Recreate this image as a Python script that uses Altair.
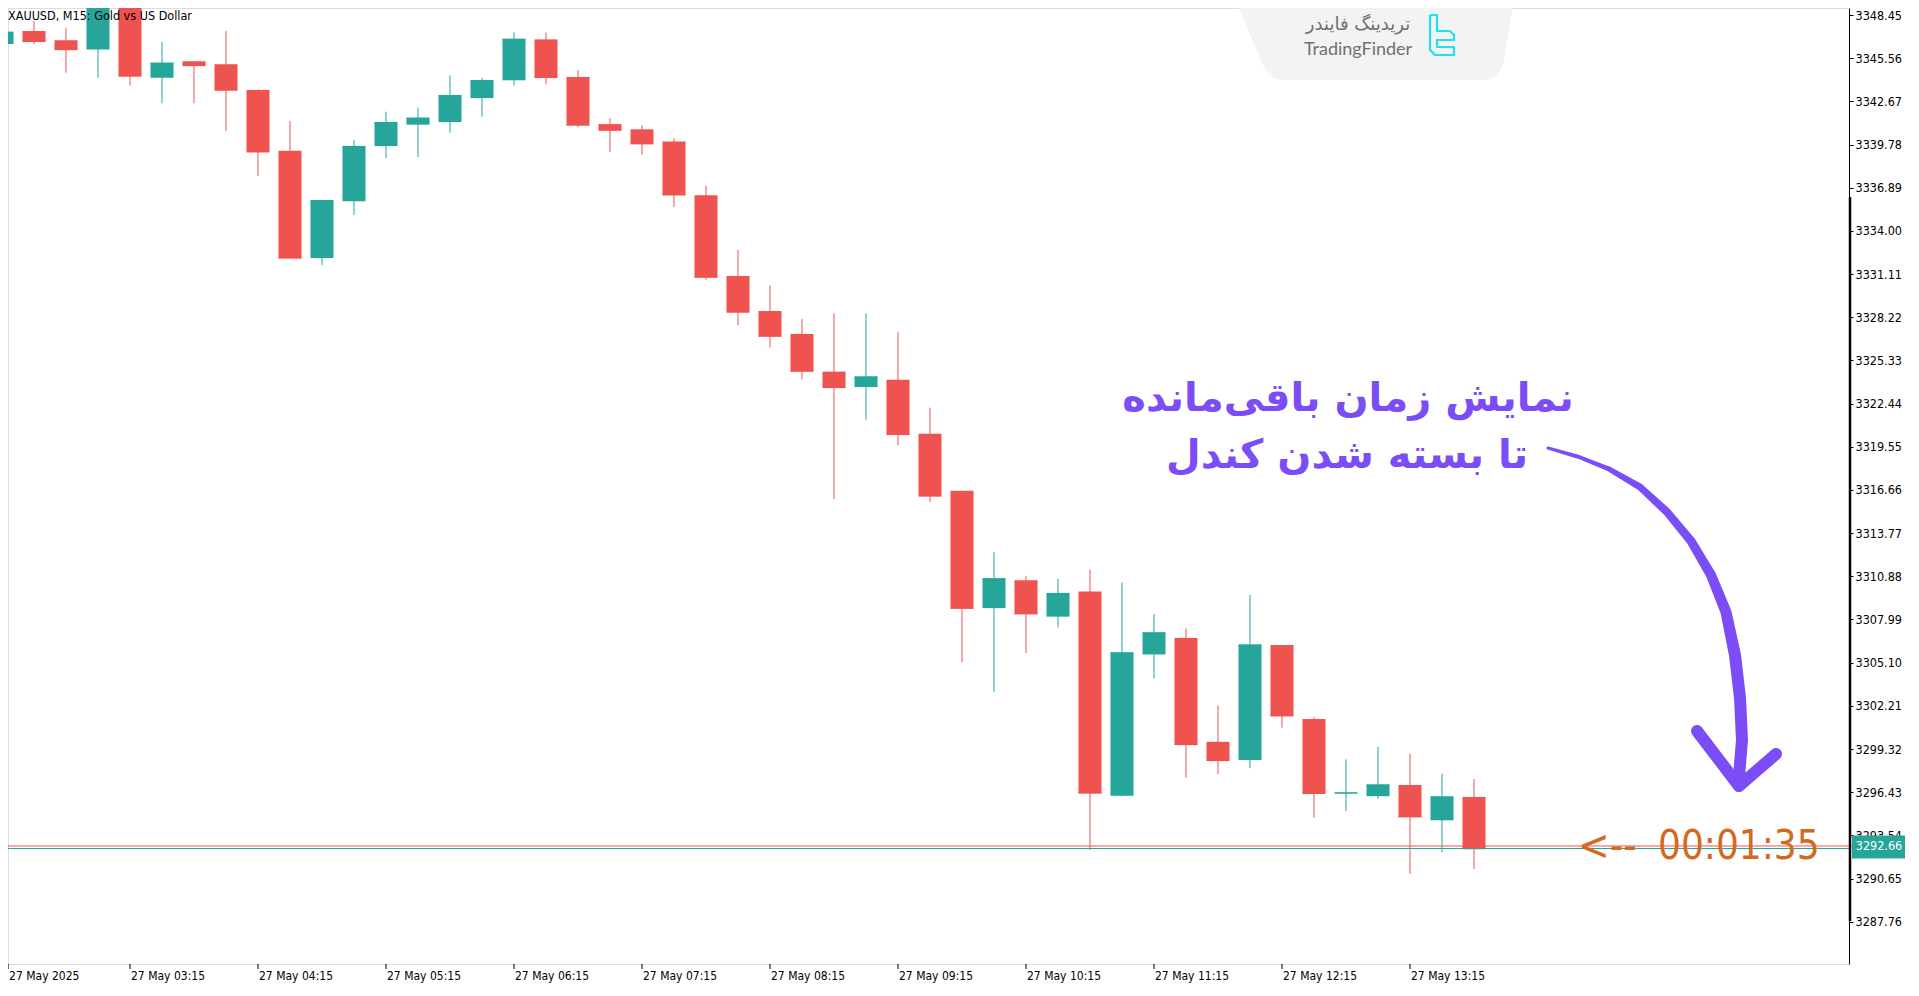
import altair as alt
import pandas as pd

# ---------------- data ----------------
candle_idx = list(range(47))
opens = [3346.51, 3347.38, 3346.76, 3346.15, 3349.86, 3344.25, 3345.35, 3345.15, 3343.43, 3339.37,
         3332.19, 3335.98, 3339.68, 3341.11, 3341.29, 3342.89, 3344.08, 3346.82, 3344.30, 3341.15,
         3340.80, 3339.99, 3336.38, 3330.98, 3328.64, 3327.10, 3324.58, 3323.55, 3324.04, 3320.43,
         3316.61, 3308.75, 3310.61, 3308.18, 3309.86, 3296.20, 3305.65, 3306.75, 3299.80, 3298.59,
         3306.28, 3301.33, 3296.36, 3296.16, 3296.91, 3294.55, 3296.11]
highs = [3347.38, 3348.05, 3347.56, 3350.12, 3350.20, 3346.64, 3345.37, 3347.38, 3343.48, 3341.36,
         3336.02, 3340.08, 3341.98, 3342.25, 3344.41, 3344.25, 3347.29, 3347.29, 3344.77, 3341.54,
         3341.07, 3340.20, 3337.02, 3332.72, 3330.36, 3328.10, 3328.48, 3328.48, 3327.21, 3322.17,
         3316.61, 3312.49, 3310.91, 3310.71, 3311.33, 3310.46, 3308.36, 3307.39, 3302.23, 3309.63,
         3306.28, 3301.45, 3298.63, 3299.46, 3299.01, 3297.67, 3297.31]
lows = [3346.44, 3346.49, 3344.59, 3344.25, 3343.72, 3342.54, 3342.54, 3340.69, 3337.69, 3332.19,
        3331.72, 3335.06, 3338.86, 3338.95, 3340.57, 3341.64, 3343.72, 3343.81, 3340.93, 3339.28,
        3339.10, 3335.60, 3330.73, 3327.68, 3326.21, 3324.07, 3316.05, 3321.36, 3319.65, 3315.87,
        3305.13, 3303.14, 3305.75, 3307.46, 3292.56, 3296.20, 3304.04, 3297.40, 3297.65, 3298.03,
        3300.75, 3294.72, 3295.17, 3295.98, 3290.96, 3292.41, 3291.29]
closes = [3347.29, 3346.69, 3346.15, 3349.86, 3344.37, 3345.22, 3345.08, 3343.43, 3339.30, 3332.19,
          3336.02, 3339.64, 3341.24, 3341.54, 3343.05, 3344.05, 3346.82, 3344.28, 3341.09, 3340.75,
          3339.84, 3336.42, 3330.91, 3328.57, 3326.96, 3324.62, 3323.53, 3324.22, 3320.39, 3316.26,
          3308.75, 3310.71, 3308.38, 3309.72, 3296.38, 3305.75, 3307.09, 3299.63, 3298.56, 3306.28,
          3301.55, 3296.36, 3296.38, 3296.91, 3294.79, 3296.11, 3292.66]

bid_price = 3292.66
ask_price = 3292.83
bid_label = "3292.66"

y_tick_values = [3348.45, 3345.56, 3342.67, 3339.78, 3336.89, 3334.00, 3331.11, 3328.22, 3325.33,
                 3322.44, 3319.55, 3316.66, 3313.77, 3310.88, 3307.99, 3305.10, 3302.21, 3299.32,
                 3296.43, 3293.54, 3290.65, 3287.76]

x_label_idx = [0, 4, 8, 12, 16, 20, 24, 28, 32, 36, 40, 44]
x_label_text = ["27 May 2025", "27 May 03:15", "27 May 04:15", "27 May 05:15", "27 May 06:15",
                "27 May 07:15", "27 May 08:15", "27 May 09:15", "27 May 10:15", "27 May 11:15",
                "27 May 12:15", "27 May 13:15"]

title_text = "XAUUSD, M15:  Gold vs US Dollar"
note_line1 = "نمایش زمان باقی\u200cمانده"
note_line2 = "تا بسته شدن کندل"
timer_arrow = "<--"
timer_text = "00:01:35"
logo_fa = "تریدینگ فایندر"
logo_en = "TradingFinder"

# thick separator segment on the price scale (price range)
sep_top, sep_bottom = 3336.27, 3287.81

# ---------------- styling / layout ----------------
W, H = 1841, 956
GREEN = "#26a69a"
RED = "#ef5350"
PURPLE = "#7b4df6"
ORANGE = "#d2691e"
NARROW = "Liberation Sans Narrow, DejaVu Sans Condensed, Liberation Sans, sans-serif"

xs = alt.Scale(domain=[0.1875, 57.71875], nice=False, zero=False)
ys = alt.Scale(domain=[3284.93, 3348.92], nice=False, zero=False)

y_axis = alt.Axis(orient="right", values=y_tick_values, format=".2f", title=None, grid=False,
                  labelFont=NARROW, labelFontSize=12.5, labelColor="black", tickColor="black",
                  tickSize=4, domainColor="black", labelPadding=2, labelFlush=False,
                  labelOverlap=False, zindex=0)

df = pd.DataFrame({"i": candle_idx, "o": opens, "h": highs, "l": lows, "c": closes})
base = alt.Chart(df).transform_calculate(
    dir="datum.c >= datum.o ? 'up' : 'down'",
    x0="datum.i - 0.36",
    x1="datum.i + 0.36",
)
col = alt.Color("dir:N", scale=alt.Scale(domain=["up", "down"], range=[GREEN, RED]), legend=None)

wicks = base.mark_rule(strokeWidth=1, clip=True).encode(
    x=alt.X("i:Q", scale=xs, axis=None),
    y=alt.Y("l:Q", scale=ys, axis=y_axis),
    y2="h:Q",
    color=col,
)
bodies = base.mark_rect(clip=True).encode(
    x=alt.X("x0:Q", scale=xs, axis=None),
    x2="x1:Q",
    y=alt.Y("o:Q", scale=ys, axis=None),
    y2="c:Q",
    color=col,
)
close_edge = base.mark_rule(strokeWidth=1.5, clip=True).encode(
    x=alt.X("x0:Q", scale=xs, axis=None),
    x2="x1:Q",
    y=alt.Y("c:Q", scale=ys, axis=None),
    color=col,
)

one = pd.DataFrame({"bid": [bid_price], "ask": [ask_price], "lab": [bid_label],
                    "st": [sep_top], "sb": [sep_bottom]})
pchart = alt.Chart(one)
ask_line = pchart.mark_rule(color=RED, strokeWidth=1).encode(
    x=alt.value(0), x2=alt.value(W + 56), y=alt.Y("ask:Q", scale=ys, axis=None))
bid_line = pchart.mark_rule(color=GREEN, strokeWidth=1).encode(
    x=alt.value(0), x2=alt.value(W), y=alt.Y("bid:Q", scale=ys, axis=None))
bid_box = pchart.transform_calculate(b1="datum.bid + 0.67", b2="datum.bid - 0.67").mark_rect(
    color=GREEN, yOffset=-3).encode(
    x=alt.value(W + 3), x2=alt.value(W + 56),
    y=alt.Y("b1:Q", scale=ys, axis=None), y2="b2:Q")
bid_text = pchart.mark_text(color="white", font=NARROW, fontSize=12.5, align="center",
                            baseline="middle", dy=-3).encode(
    x=alt.value(W + 30), y=alt.Y("bid:Q", scale=ys, axis=None), text="lab:N")
sep_rule = pchart.mark_rule(color="black", strokeWidth=2.5).encode(
    x=alt.value(W + 1), y=alt.Y("st:Q", scale=ys, axis=None), y2="sb:Q")

# x axis labels and ticks
xl = pd.DataFrame({"idx": x_label_idx, "lab": x_label_text})
xlab_base = alt.Chart(xl).transform_calculate(xi="max(datum.idx, 0.19)")
x_ticks = xlab_base.mark_rule(color="black").encode(
    x=alt.X("xi:Q", scale=xs, axis=None), y=alt.value(H), y2=alt.value(H + 5))
x_labels = xlab_base.mark_text(align="left", baseline="middle", font=NARROW, fontSize=12,
                               color="black", dx=1).encode(
    x=alt.X("xi:Q", scale=xs, axis=None), y=alt.value(H + 12), text="lab:N")

dummy = alt.Chart(pd.DataFrame({"a": [0]}))


def txt(s, x, y, **kw):
    return dummy.mark_text(text=s, **kw).encode(x=alt.value(x), y=alt.value(y))


title = txt(title_text, 0, 8, align="left", baseline="middle", font=NARROW, fontSize=12.5, color="black")
note1 = txt(note_line1, 1340, 391, align="center", baseline="middle", font="DejaVu Sans",
            fontWeight="bold", fontSize=40, color=PURPLE)
note2 = txt(note_line2, 1339, 448, align="center", baseline="middle", font="DejaVu Sans",
            fontWeight="bold", fontSize=40, color=PURPLE)
timer1 = txt(timer_arrow, 1570, 839, align="left", baseline="middle", font=NARROW, fontSize=42,
             color=ORANGE)
timer2 = txt(timer_text, 1650, 839, align="left", baseline="middle", font=NARROW, fontSize=40,
             color=ORANGE)

# curved arrow (pixel positions)
arrow_df = pd.DataFrame({
    "px": [1540, 1571, 1601, 1632, 1659, 1683, 1703, 1718, 1727, 1732, 1734, 1731],
    "py": [440, 449, 461, 479, 504, 533, 567, 604, 647, 690, 732, 769],
    "w": [3, 4, 5, 7, 8, 9, 10, 11, 12, 12, 12, 12],
    "k": list(range(12)),
})
arrow = alt.Chart(arrow_df).mark_trail(color=PURPLE).encode(
    x=alt.X("px:Q", scale=None), y=alt.Y("py:Q", scale=None),
    size=alt.Size("w:Q", scale=None, legend=None), order="k:Q")
head_df = pd.DataFrame({
    "px": [1689, 1731, 1768, 1731],
    "py": [723, 778, 746, 778],
    "part": ["a", "a", "b", "b"],
    "k": [0, 1, 0, 1],
})
head = alt.Chart(head_df).mark_line(color=PURPLE, strokeWidth=12, strokeCap="round",
                                    strokeJoin="round").encode(
    x=alt.X("px:Q", scale=None), y=alt.Y("py:Q", scale=None), detail="part:N", order="k:Q")

# logo badge
badge_df = pd.DataFrame({
    "px": [1230, 1255, 1260, 1266, 1274, 1479, 1486, 1491, 1495, 1505],
    "py": [-2, 57, 65, 70, 72, 72, 69, 64, 57, -2],
})
badge = alt.Chart(badge_df).mark_area(color="#f3f3f3").encode(
    x=alt.X("px:Q", scale=None), y=alt.Y("py:Q", scale=None), y2=alt.value(-2))
icon_df = pd.DataFrame({
    "px": [1422, 1429, 1429, 1442, 1446, 1446, 1429, 1429, 1446, 1446, 1427, 1422, 1422],
    "py": [7, 7, 23, 23, 27, 32, 32, 39, 39, 47, 47, 42, 7],
    "k": list(range(13)),
})
icon = alt.Chart(icon_df).mark_line(color="#22e0ee", strokeWidth=2.2, strokeJoin="round").encode(
    x=alt.X("px:Q", scale=None), y=alt.Y("py:Q", scale=None), order="k:Q")
logo1 = txt(logo_fa, 1350, 17, align="center", baseline="middle", font="DejaVu Sans",
            fontSize=18, color="#707070")
logo2 = txt(logo_en, 1350, 42, align="center", baseline="middle", font="Lato",
            fontSize=18, color="#707070")

chart = alt.layer(
    wicks, bodies, close_edge, bid_line, ask_line, title,
    badge, icon, logo1, logo2,
    note1, note2, arrow, head, timer1, timer2,
    sep_rule, bid_box, bid_text, x_ticks, x_labels,
).resolve_scale(x="independent", y="independent", color="independent").properties(
    width=W, height=H,
    padding={"left": 0, "top": 0, "right": 60, "bottom": 20},
    autosize=alt.AutoSizeParams(type="none"),
).configure_view(stroke="black", strokeWidth=1).configure(background="white")

chart.save("out.html", embed_options={"renderer": "svg", "actions": False})
